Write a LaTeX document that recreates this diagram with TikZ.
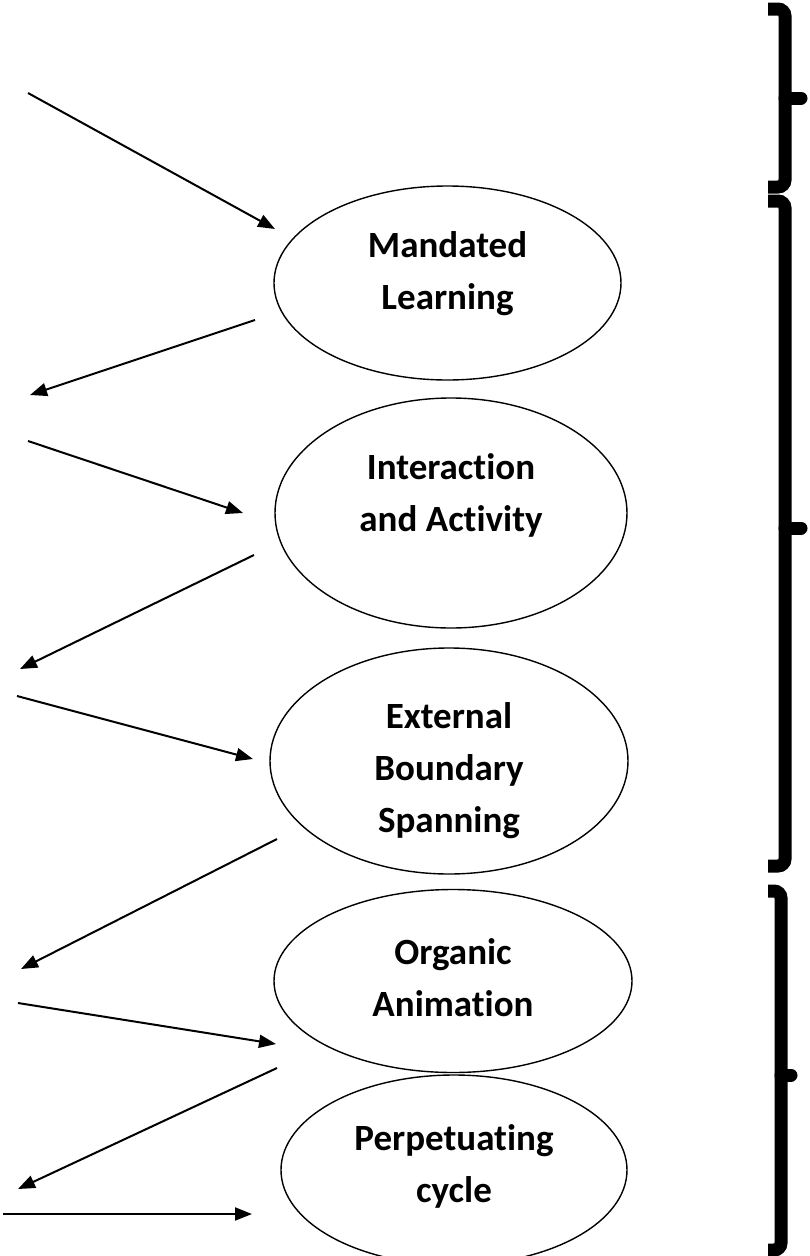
\documentclass[tikz,border=0pt]{standalone}
\usepackage{fontspec}
\setmainfont{Carlito}[Ligatures=NoCommon]
\usetikzlibrary{arrows.meta,shapes.geometric}

\tikzset{
  stage/.style={draw, ellipse, line width=1.4pt, inner sep=0pt},
  stagetext/.style={font=\bfseries\fontsize{37}{52}\selectfont, align=center, inner sep=0pt},
  flow/.style={line width=2pt, -{Triangle[length=17pt,width=13pt]}},
  bracket/.style={line width=13pt, rounded corners=7pt, line cap=butt},
  bracetip/.style={line width=13pt, line cap=round}
}

\begin{document}
\begin{tikzpicture}[x=1pt, y=-1pt]
\useasboundingbox (0,0) rectangle (809,1256);

% stages of the cycle
\node[stage, minimum width=347pt, minimum height=194pt] (e1) at (447.5,283) {};
\node[stage, minimum width=352pt, minimum height=230pt] (e2) at (451,513) {};
\node[stage, minimum width=358pt, minimum height=226pt] (e3) at (449,761) {};
\node[stage, minimum width=358pt, minimum height=183pt] (e4) at (453,981) {};
\node[stage, minimum width=346pt, minimum height=190pt] (e5) at (454,1170) {};

\node[stagetext] (t1) at (447.5,274) {Mandated\\Learning};
\node[stagetext] (t2) at (451,495) {Interaction\\and Activity};
\node[stagetext] (t3) at (449,771) {External\\Boundary\\Spanning};
\node[stagetext] (t4) at (453,978) {Organic\\Animation};
\node[stagetext] (t5) at (454,1166) {Perpetuating\\cycle};

% free ends of the arrows
\coordinate (a1s) at (28,93);    \coordinate (a1e) at (275,229);
\coordinate (a2s) at (255,320);  \coordinate (a2e) at (30,395);
\coordinate (a3s) at (28,441);   \coordinate (a3e) at (243,513);
\coordinate (a4s) at (254,555);  \coordinate (a4e) at (20,669);
\coordinate (a5s) at (17,696);   \coordinate (a5e) at (253,759);
\coordinate (a6s) at (277,839);  \coordinate (a6e) at (21,969);
\coordinate (a7s) at (18,1003);  \coordinate (a7e) at (276,1044);
\coordinate (a8s) at (277,1068); \coordinate (a8e) at (18,1189);
\coordinate (a9s) at (3,1214);   \coordinate (a9e) at (252,1214);

\draw[flow] (a1s) -- (a1e);
\draw[flow] (a2s) -- (a2e);
\draw[flow] (a3s) -- (a3e);
\draw[flow] (a4s) -- (a4e);
\draw[flow] (a5s) -- (a5e);
\draw[flow] (a6s) -- (a6e);
\draw[flow] (a7s) -- (a7e);
\draw[flow] (a8s) -- (a8e);
\draw[flow] (a9s) -- (a9e);

% grouping braces on the right
\draw[bracket] (768,9) -- (785,9) -- (785,187) -- (768,187);
\draw[bracetip] (785,98) -- (801,98);

\draw[bracket] (768,201) -- (785,201) -- (785,866) -- (768,866);
\draw[bracetip] (785,528) -- (801,528);

\draw[bracket] (768,891) -- (781,891) -- (781,1250) -- (768,1250);
\draw[bracetip] (781,1075) -- (791,1075);
\end{tikzpicture}
\end{document}
